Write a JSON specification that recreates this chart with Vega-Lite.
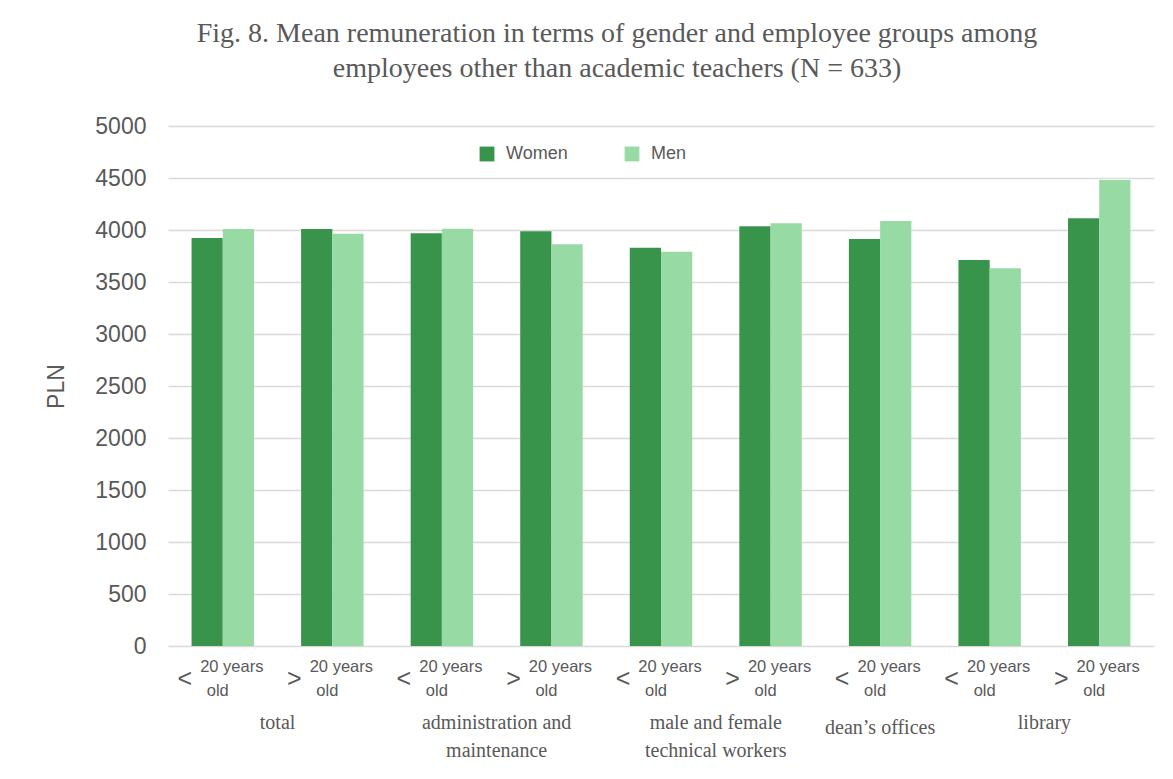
{
  "$schema": "https://vega.github.io/schema/vega-lite/v6.json",
  "autosize": {"type": "none"},
  "width": 986,
  "height": 520,
  "padding": {"left": 168, "top": 126, "right": 19, "bottom": 133},
  "background": "white",
  "config": {"view": {"stroke": null}},
  "title": {
    "text": ["Fig. 8. Mean remuneration in terms of gender and employee groups among", "employees other than academic teachers (N = 633)"],
    "font": "Liberation Serif",
    "fontSize": 28,
    "fontWeight": "normal",
    "color": "#595959",
    "lineHeight": 35,
    "anchor": "middle",
    "frame": "group",
    "dx": -44,
    "offset": 32
  },
  "datasets": {
    "bars": [
      {"cat": "total <", "group": "total", "age": "<", "gender": "Women", "value": 3923},
      {"cat": "total <", "group": "total", "age": "<", "gender": "Men", "value": 4010},
      {"cat": "total >", "group": "total", "age": ">", "gender": "Women", "value": 4010},
      {"cat": "total >", "group": "total", "age": ">", "gender": "Men", "value": 3964},
      {"cat": "admin <", "group": "administration and maintenance", "age": "<", "gender": "Women", "value": 3968},
      {"cat": "admin <", "group": "administration and maintenance", "age": "<", "gender": "Men", "value": 4013},
      {"cat": "admin >", "group": "administration and maintenance", "age": ">", "gender": "Women", "value": 3987},
      {"cat": "admin >", "group": "administration and maintenance", "age": ">", "gender": "Men", "value": 3863},
      {"cat": "tech <", "group": "male and female technical workers", "age": "<", "gender": "Women", "value": 3830},
      {"cat": "tech <", "group": "male and female technical workers", "age": "<", "gender": "Men", "value": 3792},
      {"cat": "tech >", "group": "male and female technical workers", "age": ">", "gender": "Women", "value": 4036},
      {"cat": "tech >", "group": "male and female technical workers", "age": ">", "gender": "Men", "value": 4064},
      {"cat": "dean <", "group": "dean’s offices", "age": "<", "gender": "Women", "value": 3913},
      {"cat": "dean <", "group": "dean’s offices", "age": "<", "gender": "Men", "value": 4087},
      {"cat": "library <", "group": "library", "age": "<", "gender": "Women", "value": 3712},
      {"cat": "library <", "group": "library", "age": "<", "gender": "Men", "value": 3632},
      {"cat": "library >", "group": "library", "age": ">", "gender": "Women", "value": 4112},
      {"cat": "library >", "group": "library", "age": ">", "gender": "Men", "value": 4481}
    ],
    "groups": [
      {"cat": "total <", "label": "total", "span": 2},
      {"cat": "admin <", "label": "administration and\nmaintenance", "span": 2},
      {"cat": "tech <", "label": "male and female\ntechnical workers", "span": 2},
      {"cat": "dean <", "label": "dean’s offices", "span": 1},
      {"cat": "library <", "label": "library", "span": 2}
    ]
  },
  "layer": [
    {
      "data": {"name": "bars"},
      "mark": {"type": "bar"},
      "encoding": {
        "x": {
          "field": "cat", "type": "nominal",
          "sort": ["total <", "total >", "admin <", "admin >", "tech <", "tech >", "dean <", "library <", "library >"],
          "scale": {"paddingInner": 0.43, "paddingOuter": 0.215},
          "axis": {
            "title": null,
            "labels": false,
            "ticks": false,
            "domain": true,
            "domainColor": "#d9d9d9",
            "domainWidth": 1.3
          }
        },
        "xOffset": {"field": "gender", "type": "nominal", "sort": ["Women", "Men"]},
        "y": {
          "field": "value", "type": "quantitative",
          "scale": {"domain": [0, 5000], "nice": false},
          "axis": {
            "title": "PLN",
            "titleFont": "Liberation Sans",
            "titleFontSize": 23,
            "titleFontWeight": "normal",
            "titleColor": "#595959",
            "titlePadding": 26,
            "values": [0, 500, 1000, 1500, 2000, 2500, 3000, 3500, 4000, 4500, 5000],
            "format": "d",
            "labelFont": "Liberation Sans",
            "labelFontSize": 23,
            "labelColor": "#595959",
            "labelPadding": 22,
            "ticks": false,
            "domain": false,
            "grid": true,
            "gridColor": "#d9d9d9",
            "gridWidth": 1.3
          }
        },
        "color": {
          "field": "gender", "type": "nominal",
          "sort": ["Women", "Men"],
          "scale": {"domain": ["Women", "Men"], "range": ["#38944a", "#97daa4"]},
          "legend": {
            "orient": "none",
            "legendX": 310,
            "legendY": 19,
            "direction": "horizontal",
            "title": null,
            "labelFont": "Liberation Sans",
            "labelFontSize": 18,
            "labelColor": "#595959",
            "symbolType": "square",
            "symbolSize": 220,
            "symbolStrokeWidth": 0,
            "columnPadding": 55,
            "labelOffset": 10,
            "labelLimit": 200
          }
        }
      }
    },
    {
      "data": {"name": "bars"},
      "transform": [{"filter": "datum.gender == 'Women'"}],
      "mark": {"type": "text", "font": "Liberation Sans", "fontSize": 25, "color": "#595959", "dx": -38, "dy": 33, "baseline": "middle", "align": "center"},
      "encoding": {
        "x": {"field": "cat", "type": "nominal", "sort": ["total <", "total >", "admin <", "admin >", "tech <", "tech >", "dean <", "library <", "library >"], "axis": null},
        "y": {"datum": 0},
        "text": {"field": "age"}
      }
    },
    {
      "data": {"name": "bars"},
      "transform": [{"filter": "datum.gender == 'Women'"}],
      "mark": {"type": "text", "text": "20 years", "font": "Liberation Sans", "fontSize": 16.5, "color": "#595959", "dx": 9, "dy": 21, "baseline": "middle", "align": "center"},
      "encoding": {
        "x": {"field": "cat", "type": "nominal", "sort": ["total <", "total >", "admin <", "admin >", "tech <", "tech >", "dean <", "library <", "library >"], "axis": null},
        "y": {"datum": 0}
      }
    },
    {
      "data": {"name": "bars"},
      "transform": [{"filter": "datum.gender == 'Women'"}],
      "mark": {"type": "text", "text": "old", "font": "Liberation Sans", "fontSize": 16.5, "color": "#595959", "dx": -5, "dy": 45, "baseline": "middle", "align": "center"},
      "encoding": {
        "x": {"field": "cat", "type": "nominal", "sort": ["total <", "total >", "admin <", "admin >", "tech <", "tech >", "dean <", "library <", "library >"], "axis": null},
        "y": {"datum": 0}
      }
    },
    {
      "data": {"name": "groups"},
      "transform": [{"filter": "datum.span == 2"}],
      "mark": {"type": "text", "font": "Liberation Serif", "fontSize": 20, "color": "#595959", "dy": 67, "baseline": "top", "align": "center", "lineBreak": "\n", "lineHeight": 28},
      "encoding": {
        "x": {"field": "cat", "type": "nominal", "bandPosition": 1.377, "sort": ["total <", "total >", "admin <", "admin >", "tech <", "tech >", "dean <", "library <", "library >"], "axis": null},
        "y": {"datum": 0},
        "text": {"field": "label"}
      }
    },
    {
      "data": {"name": "groups"},
      "transform": [{"filter": "datum.span == 1"}],
      "mark": {"type": "text", "font": "Liberation Serif", "fontSize": 20, "color": "#595959", "dy": 72, "baseline": "top", "align": "center", "lineBreak": "\n", "lineHeight": 28},
      "encoding": {
        "x": {"field": "cat", "type": "nominal", "bandPosition": 0.5, "sort": ["total <", "total >", "admin <", "admin >", "tech <", "tech >", "dean <", "library <", "library >"], "axis": null},
        "y": {"datum": 0},
        "text": {"field": "label"}
      }
    }
  ]
}
